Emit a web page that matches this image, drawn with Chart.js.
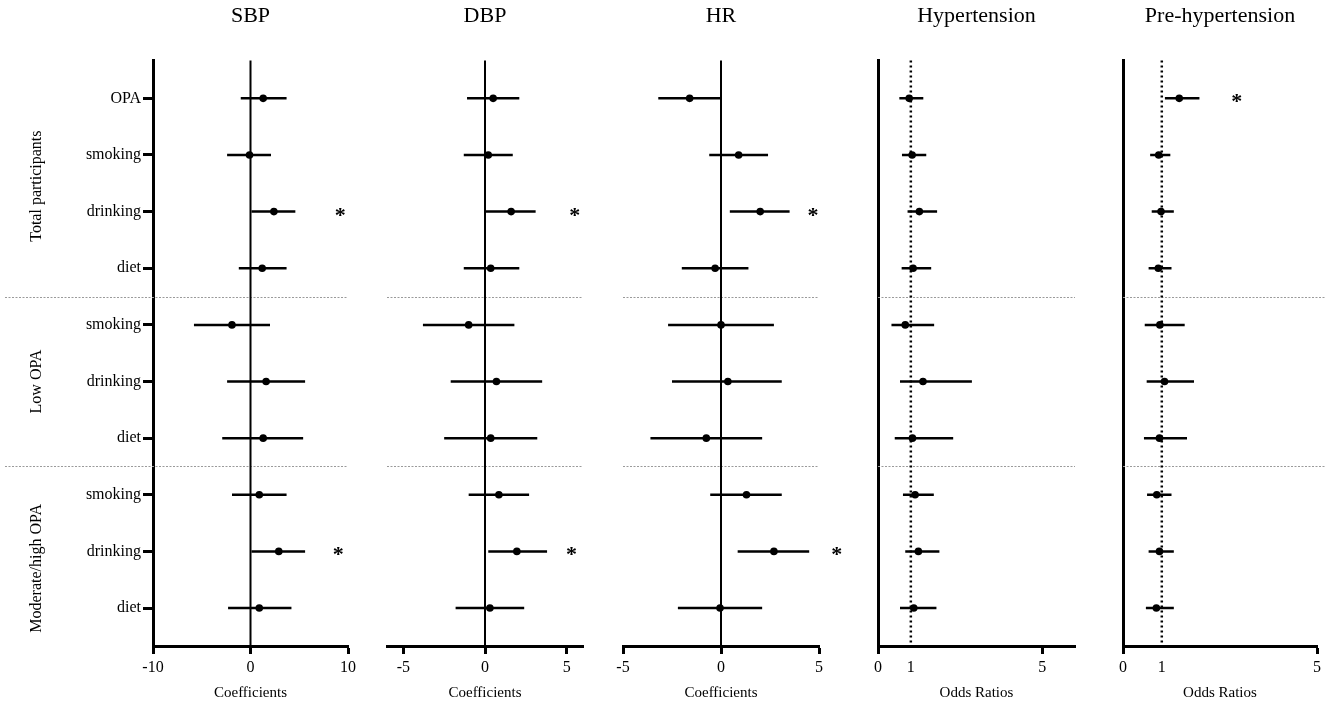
<!DOCTYPE html>
<html lang="en">
<head>
    <meta charset="UTF-8">
    <title>Forest plots</title>
    <style>
        body { margin: 0; background: white; }
        #wrap { position: relative; width: 1325px; height: 705px; overflow: hidden; }
        #wrap canvas { position: absolute; top: 0; }
    </style>
</head>
<body>
    <div id="wrap"></div>

    <script src="https://cdn.jsdelivr.net/npm/chart.js@4.4.1/dist/chart.umd.min.js"></script>
    <script>
        // rows, top to bottom
        const rowLabels = ['OPA', 'smoking', 'drinking', 'diet', 'smoking', 'drinking', 'diet', 'smoking', 'drinking', 'diet'];
        const groupLabels = ['Total participants', 'Low OPA', 'Moderate/high OPA'];
        const groupRows = [2.55, 6, 9.3];
        const groupBreaks = [4.5, 7.5];

        // SBP, coefficients
        const sbpEst  = [1.3, -0.1, 2.4, 1.2, -1.9, 1.6, 1.3, 0.9, 2.9, 0.9];
        const sbpLow  = [-1.0, -2.4, 0.1, -1.2, -5.8, -2.4, -2.9, -1.9, 0.1, -2.3];
        const sbpHigh = [3.7, 2.1, 4.6, 3.7, 2.0, 5.6, 5.4, 3.7, 5.6, 4.2];
        const sbpSig  = [3, 9];

        // DBP, coefficients
        const dbpEst  = [0.5, 0.2, 1.6, 0.35, -1.0, 0.7, 0.35, 0.85, 1.95, 0.3];
        const dbpLow  = [-1.1, -1.3, 0.05, -1.3, -3.8, -2.1, -2.5, -1.0, 0.2, -1.8];
        const dbpHigh = [2.1, 1.7, 3.1, 2.1, 1.8, 3.5, 3.2, 2.7, 3.8, 2.4];
        const dbpSig  = [3, 9];

        // HR, coefficients
        const hrEst  = [-1.6, 0.9, 2.0, -0.3, 0.0, 0.35, -0.75, 1.3, 2.7, -0.05];
        const hrLow  = [-3.2, -0.6, 0.45, -2.0, -2.7, -2.5, -3.6, -0.55, 0.85, -2.2];
        const hrHigh = [0.0, 2.4, 3.5, 1.4, 2.7, 3.1, 2.1, 3.1, 4.5, 2.1];
        const hrSig  = [3, 9];

        // Hypertension, odds ratios
        const htnEst  = [0.95, 1.04, 1.26, 1.07, 0.83, 1.37, 1.05, 1.13, 1.23, 1.09];
        const htnLow  = [0.65, 0.73, 0.9, 0.72, 0.41, 0.67, 0.51, 0.76, 0.83, 0.67];
        const htnHigh = [1.38, 1.47, 1.8, 1.62, 1.71, 2.86, 2.29, 1.7, 1.87, 1.78];
        const htnSig  = [];

        // Pre-hypertension, odds ratios
        const preEst  = [1.45, 0.92, 0.98, 0.91, 0.95, 1.07, 0.94, 0.87, 0.94, 0.86];
        const preLow  = [1.08, 0.7, 0.74, 0.66, 0.56, 0.61, 0.54, 0.62, 0.66, 0.59];
        const preHigh = [1.97, 1.22, 1.31, 1.25, 1.59, 1.83, 1.65, 1.25, 1.31, 1.31];
        const preSig  = [1];

        const SERIF = "'Liberation Serif', 'Times New Roman', serif";

        const panels = [
            { title: 'SBP', est: sbpEst, low: sbpLow, high: sbpHigh, sig: sbpSig, starAt: [9.2, 9.0],
              left: 0, width: 362, padL: 0, padR: 14, min: -10, max: 10, ticks: [-10, 0, 10],
              ref: 0, dotted: false, xTitle: 'Coefficients', yLabels: true, yBorder: true, sepLeft: 5 },
            { title: 'DBP', est: dbpEst, low: dbpLow, high: dbpHigh, sig: dbpSig, starAt: [5.5, 5.3],
              left: 370, width: 230, padL: 17, padR: 17, min: -6, max: 6, ticks: [-5, 0, 5],
              ref: 0, dotted: false, xTitle: 'Coefficients', yLabels: false, yBorder: false },
            { title: 'HR', est: hrEst, low: hrLow, high: hrHigh, sig: hrSig, starAt: [4.7, 5.9],
              left: 605, width: 240, padL: 18, padR: 26, min: -5, max: 5, ticks: [-5, 0, 5],
              ref: 0, dotted: false, xTitle: 'Coefficients', yLabels: false, yBorder: false },
            { title: 'Hypertension', est: htnEst, low: htnLow, high: htnHigh, sig: htnSig, starAt: [],
              left: 860, width: 230, padL: 18, padR: 15, min: 0, max: 6, ticks: [0, 1, 5],
              ref: 1, dotted: true, xTitle: 'Odds Ratios', yLabels: false, yBorder: true },
            { title: 'Pre-hypertension', est: preEst, low: preLow, high: preHigh, sig: preSig, starAt: [2.93],
              left: 1105, width: 220, padL: 18, padR: 7, min: 0, max: 5, ticks: [0, 1, 5],
              ref: 1, dotted: true, xTitle: 'Odds Ratios', yLabels: false, yBorder: true, sepToEdge: true }
        ];

        // reference line, group separators, stars, group labels
        const forestDecor = {
            id: 'forestDecor',
            beforeDatasetsDraw(chart) {
                const p = chart.options.plugins.forestDecor;
                const ctx = chart.ctx, x = chart.scales.x, y = chart.scales.y, area = chart.chartArea;
                ctx.save();
                ctx.strokeStyle = '#9a9a9a';
                ctx.lineWidth = 1;
                ctx.setLineDash([2, 1.5]);
                groupBreaks.forEach(b => {
                    const py = Math.round(y.getPixelForValue(b)) + 0.5;
                    ctx.beginPath();
                    ctx.moveTo(p.sepLeft !== undefined ? p.sepLeft : area.left, py);
                    ctx.lineTo(p.sepToEdge ? chart.width : area.right, py);
                    ctx.stroke();
                });
                const rx = x.getPixelForValue(p.ref);
                ctx.strokeStyle = 'black';
                ctx.lineWidth = p.dotted ? 2.5 : 2;
                ctx.setLineDash(p.dotted ? [2, 3] : []);
                ctx.beginPath();
                ctx.moveTo(rx, area.top);
                ctx.lineTo(rx, area.bottom);
                ctx.stroke();
                ctx.restore();
            },
            afterDatasetsDraw(chart) {
                const p = chart.options.plugins.forestDecor;
                const ctx = chart.ctx, x = chart.scales.x, y = chart.scales.y;
                ctx.save();
                ctx.fillStyle = 'black';
                ctx.font = 'bold 22px ' + SERIF;
                ctx.textAlign = 'center';
                ctx.textBaseline = 'alphabetic';
                p.sig.forEach((row, i) => {
                    ctx.fillText('*', x.getPixelForValue(p.starAt[i]), y.getPixelForValue(row) + 10);
                });
                if (p.groups) {
                    ctx.font = '16px ' + SERIF;
                    ctx.textBaseline = 'middle';
                    groupLabels.forEach((g, i) => {
                        ctx.save();
                        ctx.translate(37, y.getPixelForValue(groupRows[i]));
                        ctx.rotate(-Math.PI / 2);
                        ctx.fillText(g, 0, 0);
                        ctx.restore();
                    });
                }
                ctx.restore();
            }
        };

        const wrap = document.getElementById('wrap');

        panels.forEach(p => {
            const cv = document.createElement('canvas');
            cv.width = p.width;
            cv.height = 705;
            cv.style.left = p.left + 'px';
            cv.style.width = p.width + 'px';
            cv.style.height = '705px';
            wrap.appendChild(cv);

            const rows = p.est.map((v, i) => i + 1);
            const points = p.est.map((v, i) => ({ x: v, y: rows[i] }));
            const bars = [];
            p.est.forEach((v, i) => {
                bars.push({ x: p.low[i], y: rows[i] });
                bars.push({ x: p.high[i], y: rows[i] });
                bars.push({ x: null, y: null });
            });

            new Chart(cv, {
                type: 'line',
                data: {
                    datasets: [{
                        label: 'estimate',
                        data: points,
                        showLine: false,
                        pointRadius: 3.8,
                        pointBackgroundColor: 'black',
                        pointBorderWidth: 0
                    }, {
                        label: 'CI',
                        data: bars,
                        borderColor: 'black',
                        borderWidth: 2.5,
                        pointRadius: 0,
                        spanGaps: false
                    }]
                },
                options: {
                    responsive: false,
                    animation: false,
                    layout: { padding: { left: p.padL, right: p.padR, top: 0, bottom: 0 } },
                    plugins: {
                        legend: { display: false },
                        tooltip: { enabled: false },
                        title: {
                            display: true,
                            text: p.title,
                            fullSize: false,
                            color: 'black',
                            font: { family: SERIF, size: 22, weight: 'normal' },
                            padding: { top: 3, bottom: 31 }
                        },
                        forestDecor: {
                            ref: p.ref, dotted: p.dotted, sig: p.sig, starAt: p.starAt,
                            sepLeft: p.sepLeft, sepToEdge: p.sepToEdge, groups: p.yLabels
                        }
                    },
                    scales: {
                        x: {
                            type: 'linear',
                            min: p.min,
                            max: p.max,
                            afterBuildTicks: s => { s.ticks = p.ticks.map(v => ({ value: v })); },
                            afterFit: s => { s.height = 705 - 646; },
                            ticks: { color: 'black', padding: 4, font: { family: SERIF, size: 16 } },
                            grid: {
                                display: true, drawOnChartArea: false, drawTicks: true, tickLength: 8, tickWidth: 3,
                                tickColor: c => (p.dotted && c.tick && c.tick.value === p.ref) ? 'rgba(0,0,0,0)' : 'black'
                            },
                            border: { display: true, color: 'black', width: 3 },
                            title: { display: true, text: p.xTitle, color: 'black', font: { family: SERIF, size: 15 }, padding: { top: 0, bottom: 3 } }
                        },
                        y: {
                            type: 'linear',
                            display: p.yLabels || p.yBorder,
                            reverse: true,
                            min: 0.33,
                            max: 10.67,
                            afterBuildTicks: s => { s.ticks = rows.map(v => ({ value: v })); },
                            afterFit: s => { s.width = p.yLabels ? 153 : 0; },
                            ticks: {
                                display: p.yLabels,
                                color: 'black',
                                padding: 2,
                                font: { family: SERIF, size: 16 },
                                callback: v => rowLabels[v - 1]
                            },
                            grid: { display: p.yLabels, drawOnChartArea: false, drawTicks: true, tickLength: 10, tickWidth: 3, tickColor: 'black' },
                            border: { display: p.yBorder, color: 'black', width: 3 }
                        }
                    }
                },
                plugins: [forestDecor]
            });
        });
    </script>
</body>
</html>
